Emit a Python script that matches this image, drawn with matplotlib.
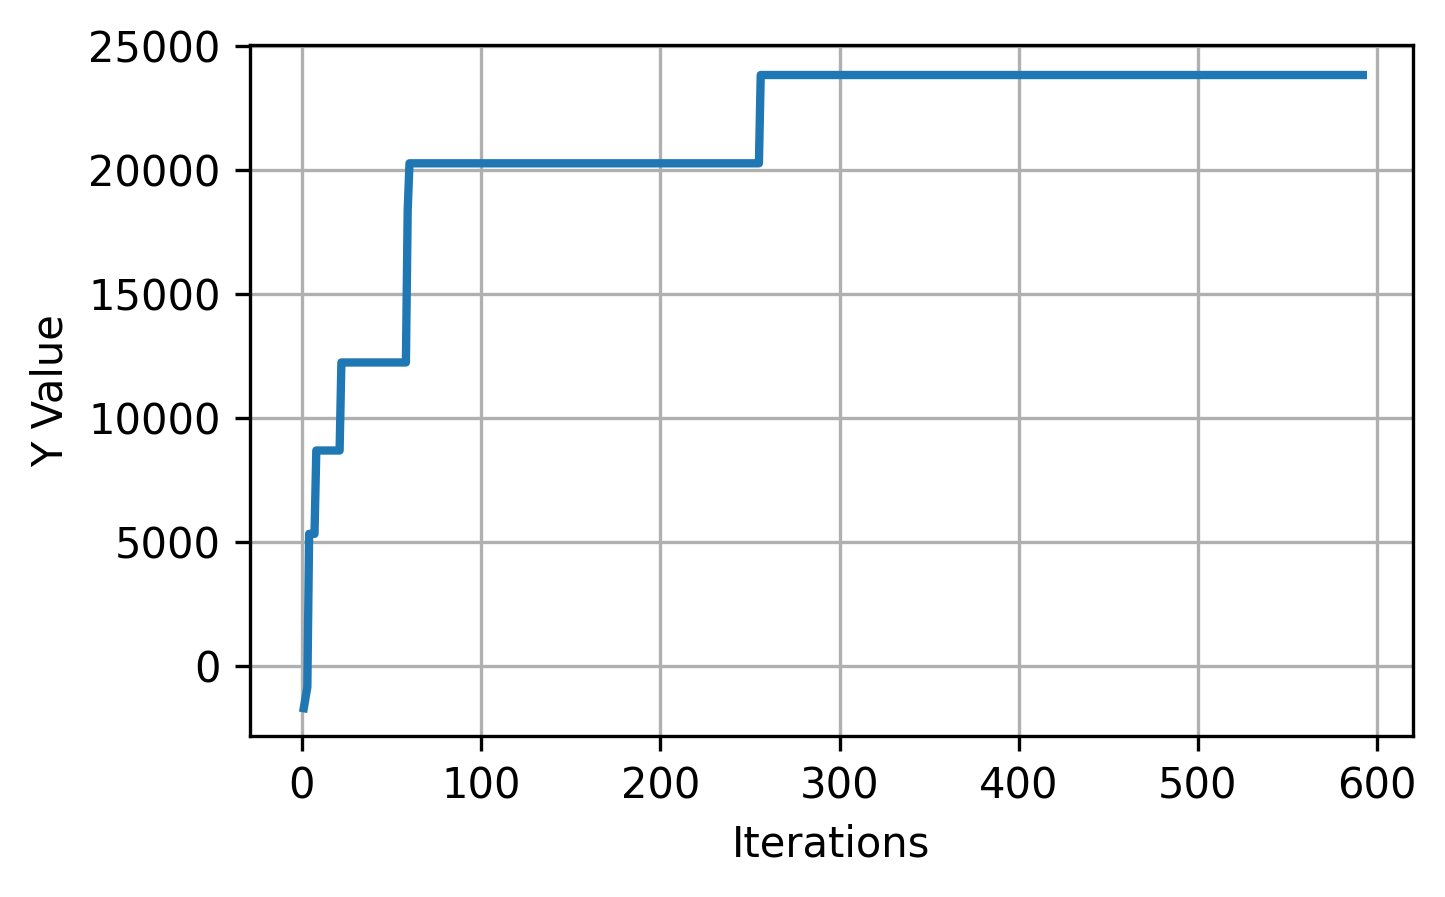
import matplotlib
matplotlib.use("Agg")
import matplotlib.pyplot as plt

iterations = [1, 3, 4, 7, 8, 21, 22, 58, 59, 60, 255, 256, 592]
y_values = [-1700, -850, 5330, 5330, 8690, 8690, 12240, 12240, 18380, 20270, 20270, 23830, 23830]

fig = plt.figure(figsize=(1445 / 300, 897 / 300), dpi=300)
ax = fig.add_axes([250 / 1445, 1 - 736 / 897, (1413 - 250) / 1445, (736 - 45) / 897])
ax.plot(iterations, y_values, color="#1f77b4", linewidth=2)
ax.grid(True)
ax.set_xlabel("Iterations")
ax.set_ylabel("Y Value")
ax.set_xticks([0, 100, 200, 300, 400, 500, 600])
ax.set_yticks([0, 5000, 10000, 15000, 20000, 25000])
ax.set_xlim(-29, 620)
ax.set_ylim(-2820, 25040)
fig.savefig("out.png", dpi=300)
